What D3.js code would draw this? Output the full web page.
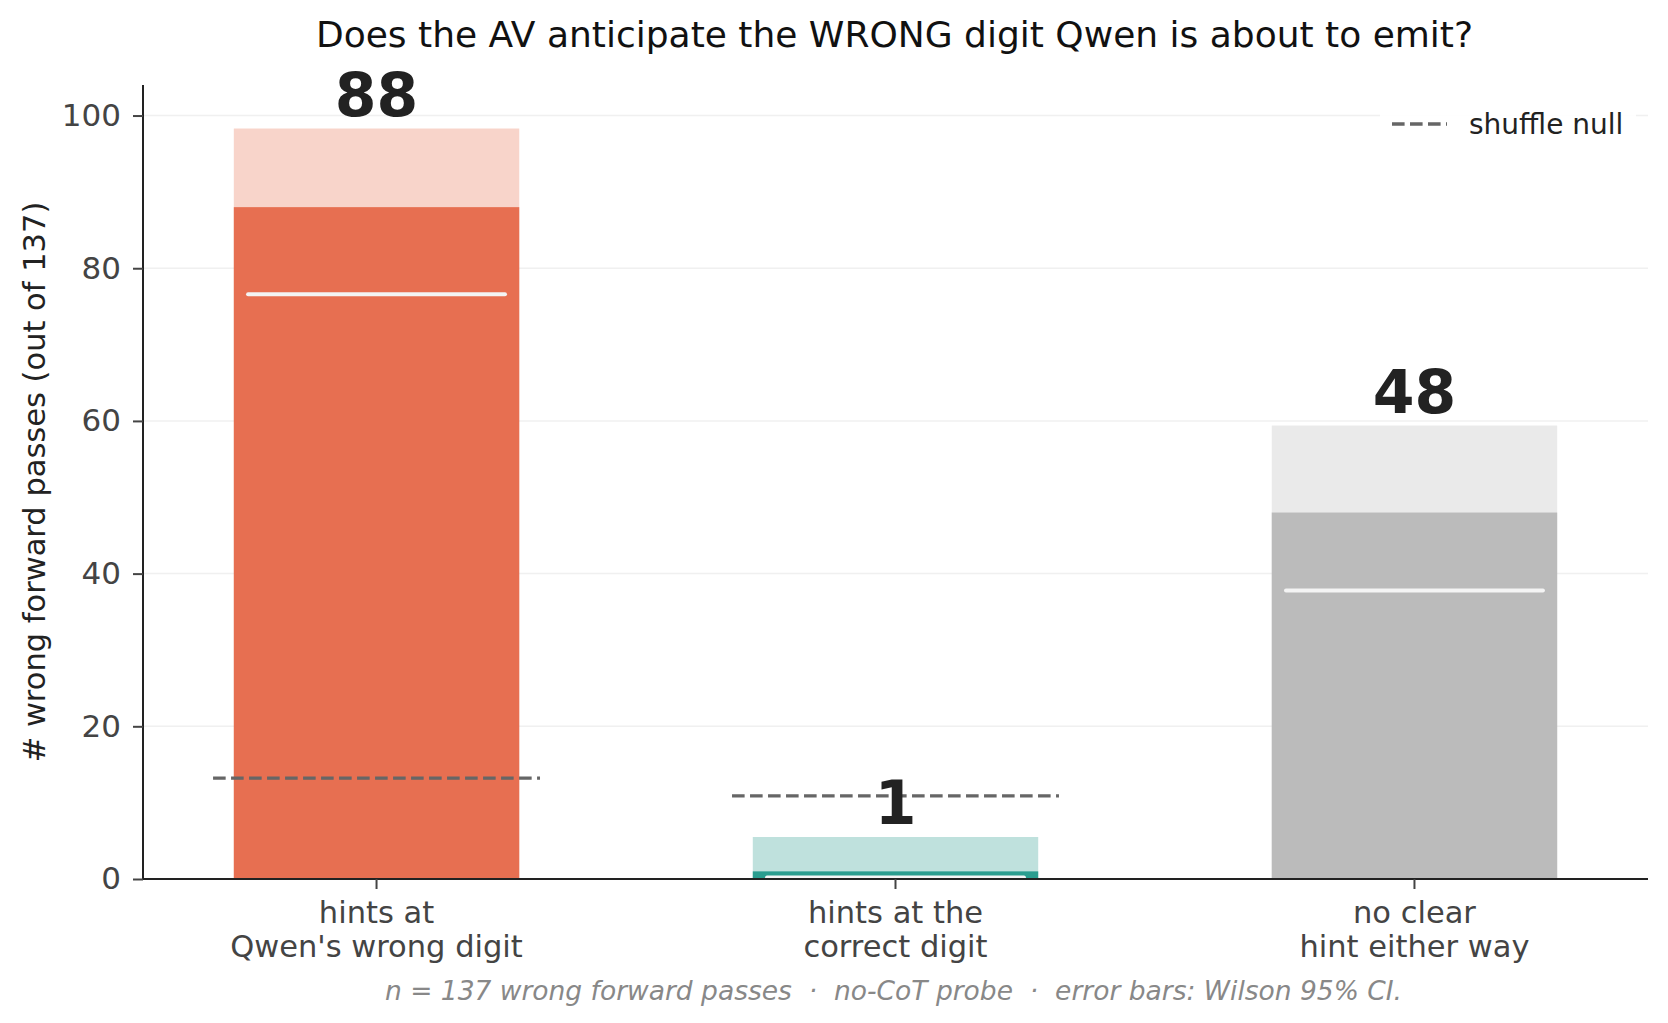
<!DOCTYPE html>
<html>
<head>
<meta charset="utf-8">
<script src="https://cdn.jsdelivr.net/npm/d3@7"></script>
<style>
  html, body { margin: 0; padding: 0; background: #fff; }
  svg { display: block; font-family: "DejaVu Sans", sans-serif; }
</style>
</head>
<body>
<svg id="chart" width="1668" height="1023"></svg>
<script>
// ---- data ----
const categories = ["hints at\nQwen's wrong digit", "hints at the\ncorrect digit", "no clear\nhint either way"];
const counts = [88, 1, 48];
const ciLower = [76.6, 0.2, 37.8];
const ciUpper = [98.3, 5.5, 59.4];
const shuffleNull = [13.2, 10.9, null];
const barColors = ["#e76f51", "#2a9d8f", "#bbbbbb"];
const yTicks = [0, 20, 40, 60, 80, 100];
const titleText = "Does the AV anticipate the WRONG digit Qwen is about to emit?";
const yLabelText = "# wrong forward passes (out of 137)";
const footText = "n = 137 wrong forward passes  \u00b7  no-CoT probe  \u00b7  error bars: Wilson 95% CI.";
const legendText = "shuffle null";

// ---- layout ----
const svg = d3.select("#chart");
const L = 143, R = 1648, T = 85, B = 879;
const x = d3.scaleLinear().domain([-0.45, 2.45]).range([L, R]);
const y = d3.scaleLinear().domain([0, 104]).range([B, T]);
const barW = 0.55;
const idx = d3.range(categories.length);

// grid
svg.append("g").selectAll("line").data(yTicks.filter(d => d > 0)).join("line")
  .attr("x1", L).attr("x2", R)
  .attr("y1", d => y(d)).attr("y2", d => y(d))
  .attr("stroke", "#f0f0f0").attr("stroke-width", 1.5);

// light CI extension (alpha 0.3)
svg.append("g").selectAll("rect").data(idx).join("rect")
  .attr("x", i => x(i - barW / 2)).attr("width", i => x(i + barW / 2) - x(i - barW / 2))
  .attr("y", i => y(ciUpper[i])).attr("height", i => y(0) - y(ciUpper[i]))
  .attr("fill", i => barColors[i]).attr("fill-opacity", 0.3);

// solid bars
svg.append("g").selectAll("rect").data(idx).join("rect")
  .attr("x", i => x(i - barW / 2)).attr("width", i => x(i + barW / 2) - x(i - barW / 2))
  .attr("y", i => y(counts[i])).attr("height", i => y(0) - y(counts[i]))
  .attr("fill", i => barColors[i]);

// lower CI white line
svg.append("g").selectAll("line").data(idx).join("line")
  .attr("x1", i => x(i - barW * 0.45)).attr("x2", i => x(i + barW * 0.45))
  .attr("y1", i => y(ciLower[i])).attr("y2", i => y(ciLower[i]))
  .attr("stroke", "#f4f4f4").attr("stroke-width", 4).attr("stroke-linecap", "round");

// shuffle null dashed
svg.append("g").selectAll("line").data(idx.filter(i => shuffleNull[i] != null)).join("line")
  .attr("x1", i => x(i - 0.315)).attr("x2", i => x(i + 0.315))
  .attr("y1", i => y(shuffleNull[i])).attr("y2", i => y(shuffleNull[i]))
  .attr("stroke", "#666").attr("stroke-width", 3.3).attr("stroke-dasharray", "12.6,5.4");

// value labels
svg.append("g").selectAll("text").data(idx).join("text")
  .attr("x", i => x(i)).attr("y", i => y(ciUpper[i]) - 13)
  .attr("text-anchor", "middle").attr("font-size", 60).attr("font-weight", "bold")
  .attr("fill", "#222").text(i => counts[i]);

// axes
const yAxis = d3.axisLeft(y).tickValues(yTicks).tickSize(10).tickPadding(12);
const gy = svg.append("g").attr("transform", `translate(${L},0)`).call(yAxis);
gy.select(".domain").attr("stroke", "#222").attr("stroke-width", 2).attr("d", `M0,${B}V${T}`);
gy.selectAll(".tick line").attr("stroke", "#444").attr("stroke-width", 2);
gy.selectAll(".tick text").attr("font-size", 31).attr("fill", "#444").attr("font-family", "DejaVu Sans");

const gx = svg.append("g").attr("transform", `translate(0,${B})`);
gx.append("line").attr("x1", L).attr("x2", R).attr("y1", 0).attr("y2", 0)
  .attr("stroke", "#222").attr("stroke-width", 2);
gx.selectAll("line.tk").data(idx).join("line").attr("class", "tk")
  .attr("x1", i => x(i)).attr("x2", i => x(i)).attr("y1", 0).attr("y2", 10)
  .attr("stroke", "#444").attr("stroke-width", 2);
const xl = gx.selectAll("text.cat").data(idx).join("text").attr("class", "cat")
  .attr("x", i => x(i)).attr("y", 0).attr("text-anchor", "middle")
  .attr("font-size", 30.5).attr("fill", "#444");
xl.each(function(i) {
  const lines = categories[i].split("\n");
  d3.select(this).selectAll("tspan").data(lines).join("tspan")
    .attr("x", x(i)).attr("y", (d, k) => 44 + k * 33.5).text(d => d);
});

// y label
svg.append("text").attr("transform", `translate(45,482) rotate(-90)`)
  .attr("text-anchor", "middle").attr("font-size", 30.5).attr("fill", "#222")
  .text(yLabelText);

// title
svg.append("text").attr("x", (L + R) / 2 - 1).attr("y", 47).attr("text-anchor", "middle")
  .attr("font-size", 36).attr("fill", "#111").text(titleText);

// footnote
svg.append("text").attr("x", (L + R) / 2 - 2).attr("y", 1000).attr("text-anchor", "middle")
  .attr("font-size", 26.5).attr("font-style", "italic").attr("fill", "#888")
  .attr("xml:space", "preserve").style("white-space", "pre").text(footText);

// legend
const lg = svg.append("g");
lg.append("rect").attr("x", 1380).attr("y", 101).attr("width", 256).attr("height", 44)
  .attr("fill", "#fff").attr("fill-opacity", 0.9);
lg.append("line").attr("x1", 1392).attr("x2", 1447).attr("y1", 124).attr("y2", 124)
  .attr("stroke", "#666").attr("stroke-width", 3.3).attr("stroke-dasharray", "12.6,5.4");
lg.append("text").attr("x", 1469).attr("y", 134).attr("font-size", 28).attr("fill", "#222")
  .text(legendText);
</script>
</body>
</html>
